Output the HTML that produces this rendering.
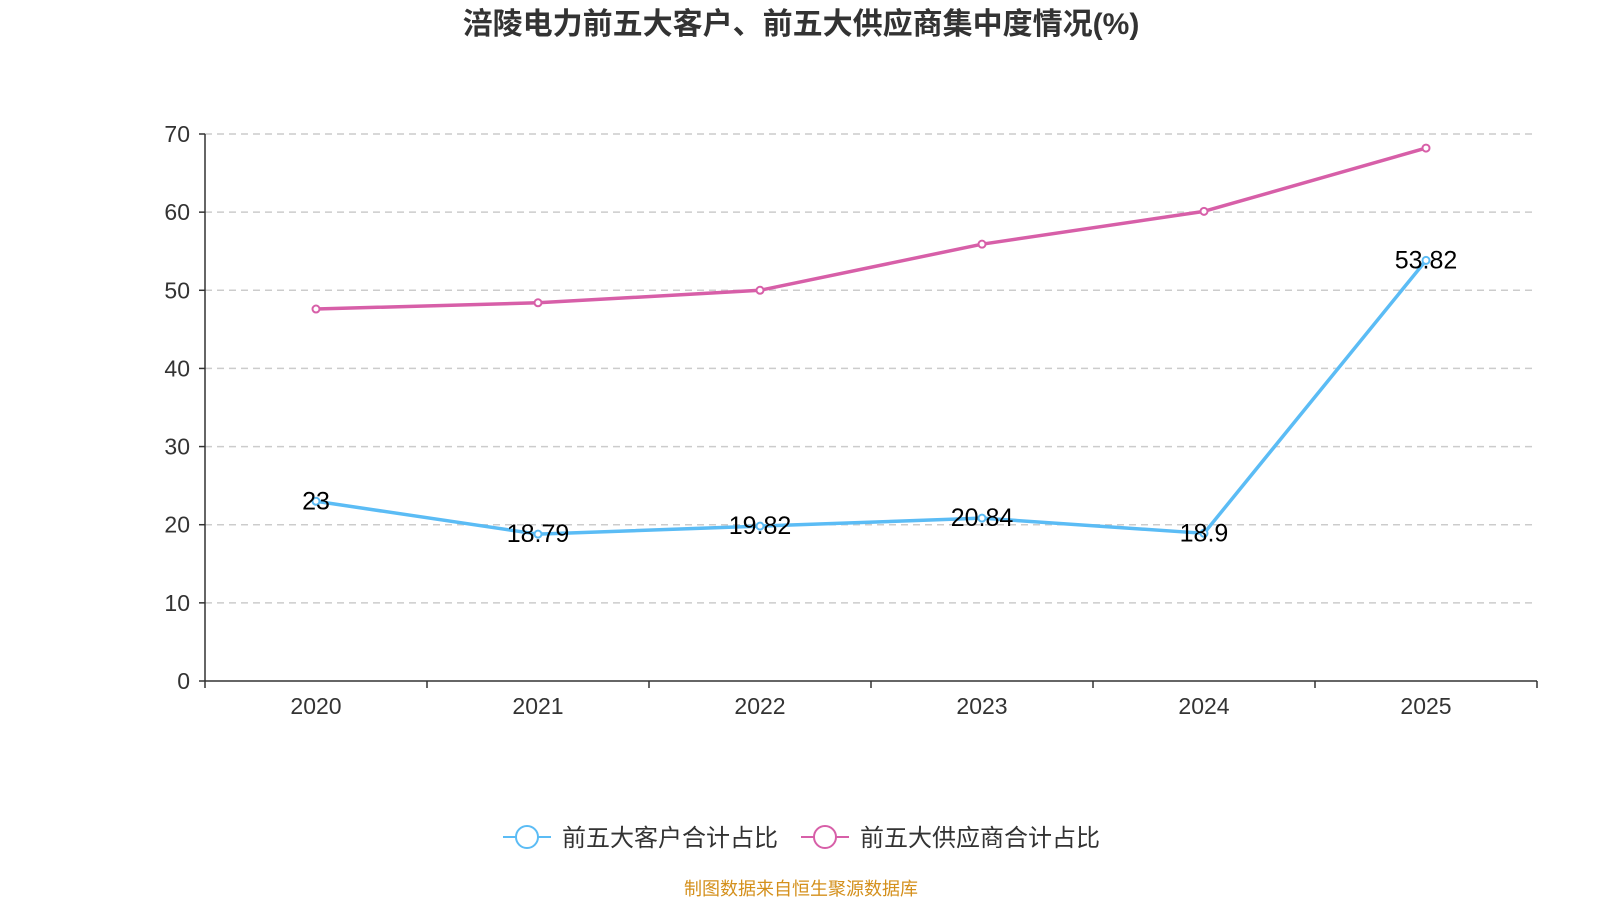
<!DOCTYPE html>
<html><head><meta charset="utf-8">
<style>
html,body{margin:0;padding:0;background:#fff;}
body{width:1600px;height:900px;overflow:hidden;font-family:"Liberation Sans","Noto Sans CJK SC",sans-serif;}
</style></head>
<body>
<svg id="chart" width="1600" height="900" xmlns="http://www.w3.org/2000/svg">
<text x="801" y="34" text-anchor="middle" font-size="30" font-weight="bold" fill="#333" font-family="Liberation Sans,Noto Sans CJK SC,sans-serif">涪陵电力前五大客户、前五大供应商集中度情况(%)</text>
<g id="grid"></g><g id="axes"></g><g id="series"></g>
<g>
 <g>
  <line x1="503" y1="837" x2="551" y2="837" stroke="#5bbcf5" stroke-width="2"/>
  <circle cx="527" cy="837" r="11" fill="#fff" stroke="#5bbcf5" stroke-width="2"/>
  <text x="562" y="846" font-size="24" fill="#333" font-family="Liberation Sans,Noto Sans CJK SC,sans-serif">前五大客户合计占比</text>
 </g>
 <g>
  <line x1="801" y1="837" x2="849" y2="837" stroke="#d75fa8" stroke-width="2"/>
  <circle cx="825" cy="837" r="11" fill="#fff" stroke="#d75fa8" stroke-width="2"/>
  <text x="860" y="846" font-size="24" fill="#333" font-family="Liberation Sans,Noto Sans CJK SC,sans-serif">前五大供应商合计占比</text>
 </g>
</g>
<text x="801" y="895" text-anchor="middle" font-size="18" fill="#d4901c" font-family="Liberation Sans,Noto Sans CJK SC,sans-serif">制图数据来自恒生聚源数据库</text>
</svg>
<script>
const categories=["2020","2021","2022","2023","2024","2025"];
const customerValues=[23,18.79,19.82,20.84,18.9,53.82];
const supplierValues=[47.6,48.4,50.0,55.9,60.1,68.2];
const yTicks=[0,10,20,30,40,50,60,70];
const NS="http://www.w3.org/2000/svg";
const X0=205,X1=1537,Y0=681,Y1=134,YMAX=70;
const band=(X1-X0)/categories.length;
const xs=i=>X0+band*(i+0.5);
const ys=v=>Y0-(v/YMAX)*(Y0-Y1);
function mk(tag,attrs,parent,text){const e=document.createElementNS(NS,tag);for(const k in attrs)e.setAttribute(k,attrs[k]);if(text!==undefined)e.textContent=text;parent.appendChild(e);return e;}
const grid=document.getElementById('grid'),axes=document.getElementById('axes'),series=document.getElementById('series');
const F="Liberation Sans,Noto Sans CJK SC,sans-serif";
yTicks.forEach(t=>{
 const y=ys(t);
 if(t>0){const l=mk('line',{x1:X0,x2:X1,y1:y,y2:y,stroke:'#ccc','stroke-width':1.5,'stroke-dasharray':'7,5'},grid);
 
 }
 mk('line',{x1:X0-6,x2:X0,y1:y,y2:y,stroke:'#333','stroke-width':1.5},axes);
 const tx=mk('text',{x:X0-15,y:y+8,'text-anchor':'end','font-size':23,fill:'#333','font-family':F},axes,String(t));
 
 
});
const ya=mk('line',{x1:X0,x2:X0,y1:Y1,y2:Y0,stroke:'#333','stroke-width':1.5},axes);


const xa=mk('line',{x1:X0,x2:X1,y1:Y0,y2:Y0,stroke:'#333','stroke-width':1.5},axes);


for(let i=0;i<=categories.length;i++){const x=X0+band*i;mk('line',{x1:x,x2:x,y1:Y0,y2:Y0+7,stroke:'#333','stroke-width':1.5},axes);}
categories.forEach((c,i)=>{
 const t=mk('text',{x:xs(i),y:Y0+33,'text-anchor':'middle','font-size':23,fill:'#333','font-family':F},axes,c);
 
 
});
function drawSeries(vals,color,name,labels){
 const pts=vals.map((v,i)=>xs(i)+','+ys(v)).join(' ');
 const pl=mk('polyline',{points:pts,fill:'none',stroke:color,'stroke-width':3.5,'stroke-linejoin':'round'},series);
 
 
 vals.forEach((v,i)=>{
  const c=mk('circle',{cx:xs(i),cy:ys(v),r:3.5,fill:'#fff',stroke:color,'stroke-width':2},series);
  
  
  if(labels){const t=mk('text',{x:xs(i),y:ys(v)+8,'text-anchor':'middle','font-size':25,fill:'#000','font-family':F},series,String(v));
  
  }
 });
}
drawSeries(supplierValues,'#d75fa8','supplier',false);
drawSeries(customerValues,'#5bbcf5','customer',true);
</script>
</body></html>
